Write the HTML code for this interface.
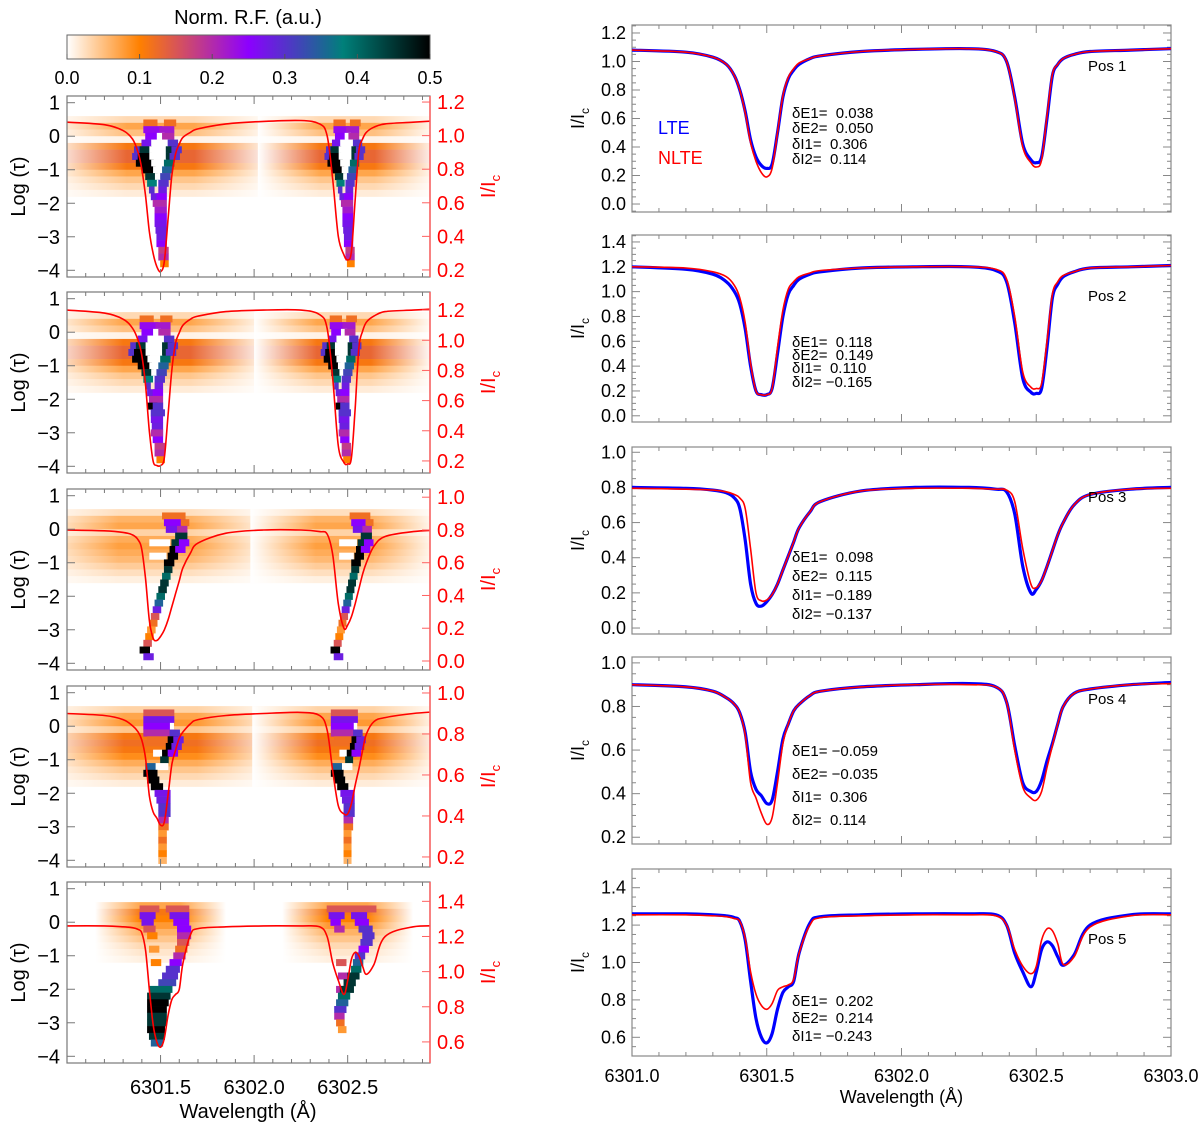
<!DOCTYPE html>
<html><head><meta charset="utf-8"><style>
html,body{margin:0;padding:0;background:#fff;}
svg{display:block;font-family:"Liberation Sans",Arial,sans-serif;}
.pre{white-space:pre;}
</style></head><body>
<svg id="fig" width="1200" height="1127" viewBox="0 0 1200 1127" xmlns="http://www.w3.org/2000/svg">
<defs>
<linearGradient id="cbgrad" x1="0" x2="1" y1="0" y2="0">
<stop offset="0" stop-color="#ffffff"/><stop offset="0.2" stop-color="#ff8000"/><stop offset="0.5" stop-color="#8c00ff"/><stop offset="0.76" stop-color="#00807a"/><stop offset="1" stop-color="#000000"/>
</linearGradient>
</defs>
<g id="root"></g>
</svg>
<script>
// ---------- DATA ----------
const wl = [6301.0,6301.2,6301.3,6301.35,6301.38,6301.4,6301.42,6301.44,6301.46,6301.48,6301.5,6301.52,6301.54,6301.56,6301.58,6301.6,6301.62,6301.66,6301.7,6301.85,6302.05,6302.25,6302.35,6302.39,6302.42,6302.45,6302.48,6302.5,6302.52,6302.54,6302.56,6302.58,6302.6,6302.64,6302.7,6302.85,6303.0];
const lte1 = [1.08,1.065,1.03,0.98,0.9,0.8,0.65,0.45,0.33,0.27,0.25,0.28,0.5,0.75,0.88,0.94,0.98,1.02,1.04,1.07,1.085,1.09,1.07,1.0,0.75,0.42,0.31,0.29,0.33,0.6,0.9,0.98,1.02,1.05,1.07,1.08,1.09];
const nlte1 = [1.08,1.065,1.03,0.98,0.9,0.8,0.64,0.43,0.3,0.22,0.19,0.25,0.5,0.76,0.89,0.95,0.99,1.02,1.04,1.07,1.085,1.09,1.07,1.0,0.74,0.4,0.29,0.26,0.31,0.62,0.91,0.98,1.02,1.05,1.07,1.08,1.09];
const lte2 = [1.2,1.18,1.14,1.08,1.0,0.9,0.7,0.4,0.2,0.17,0.17,0.22,0.5,0.8,0.98,1.05,1.1,1.14,1.16,1.19,1.2,1.2,1.17,1.08,0.75,0.3,0.19,0.18,0.22,0.55,0.95,1.06,1.12,1.16,1.19,1.2,1.21];
const nlte2 = [1.2,1.19,1.16,1.12,1.05,0.95,0.75,0.42,0.2,0.17,0.17,0.22,0.55,0.85,1.02,1.08,1.12,1.15,1.17,1.19,1.2,1.2,1.18,1.1,0.8,0.35,0.23,0.22,0.26,0.6,0.98,1.08,1.13,1.16,1.19,1.2,1.21];
const lte3 = [0.80,0.795,0.785,0.77,0.74,0.68,0.5,0.25,0.14,0.125,0.15,0.19,0.25,0.33,0.41,0.49,0.57,0.66,0.72,0.78,0.80,0.80,0.79,0.775,0.65,0.35,0.2,0.22,0.27,0.35,0.44,0.53,0.6,0.7,0.76,0.79,0.80];
const nlte3 = [0.795,0.79,0.785,0.775,0.76,0.74,0.68,0.45,0.2,0.155,0.16,0.19,0.25,0.33,0.41,0.49,0.57,0.66,0.72,0.78,0.795,0.795,0.79,0.785,0.72,0.45,0.25,0.23,0.27,0.35,0.44,0.53,0.6,0.7,0.76,0.79,0.795];
const lte4 = [0.9,0.89,0.87,0.84,0.81,0.77,0.68,0.5,0.42,0.39,0.355,0.37,0.5,0.65,0.72,0.78,0.81,0.85,0.87,0.89,0.9,0.905,0.89,0.82,0.62,0.45,0.41,0.41,0.46,0.55,0.63,0.72,0.8,0.86,0.88,0.9,0.91];
const nlte4 = [0.9,0.89,0.87,0.84,0.81,0.77,0.67,0.45,0.38,0.31,0.26,0.29,0.45,0.63,0.72,0.78,0.81,0.85,0.87,0.89,0.9,0.9,0.89,0.82,0.6,0.43,0.38,0.37,0.41,0.52,0.62,0.72,0.8,0.86,0.88,0.9,0.905];
const lte5 = [1.26,1.26,1.255,1.25,1.24,1.22,1.12,0.9,0.7,0.6,0.57,0.62,0.75,0.84,0.87,0.9,1.05,1.21,1.245,1.255,1.26,1.26,1.255,1.2,1.05,0.95,0.87,0.95,1.07,1.11,1.09,1.03,0.985,1.04,1.2,1.255,1.26];
const nlte5 = [1.255,1.255,1.25,1.245,1.235,1.22,1.13,0.95,0.83,0.77,0.75,0.78,0.85,0.87,0.88,0.91,1.05,1.2,1.24,1.25,1.255,1.255,1.25,1.2,1.07,0.98,0.94,0.98,1.12,1.18,1.17,1.1,0.99,1.03,1.19,1.25,1.255];

const posLabels = ["Pos 1","Pos 2","Pos 3","Pos 4","Pos 5"];
const deltaText = [
 ["δE1=  0.038","δE2=  0.050","δI1=  0.306","δI2=  0.114"],
 ["δE1=  0.118","δE2=  0.149","δI1=  0.110","δI2= −0.165"],
 ["δE1=  0.098","δE2=  0.115","δI1= −0.189","δI2= −0.137"],
 ["δE1= −0.059","δE2= −0.035","δI1=  0.306","δI2=  0.114"],
 ["δE1=  0.202","δE2=  0.214","δI1= −0.243"]
];
const tauTicks = [1,0,-1,-2,-3,-4];
const cbTicks = [0.0,0.1,0.2,0.3,0.4,0.5];
const leftWlTicks = [6301.5,6302.0,6302.5];
const rightWlTicks = [6301.0,6301.5,6302.0,6302.5,6303.0];

// RF bands: [tau, value]
const bands1 = [[0.5,0.03],[0.3,0.07],[0.1,0.05],[-0.1,0.01],[-0.3,0.11],[-0.5,0.13],[-0.7,0.13],[-0.9,0.11],[-1.1,0.07],[-1.3,0.045],[-1.5,0.03],[-1.7,0.015]];
const bands3 = [[0.5,0.025],[0.3,0.06],[0.1,0.07],[-0.1,0.035],[-0.3,0.065],[-0.5,0.075],[-0.7,0.065],[-0.9,0.055],[-1.1,0.04],[-1.3,0.025],[-1.5,0.012]];
const bands4 = [[0.5,0.035],[0.3,0.07],[0.1,0.08],[-0.1,0.045],[-0.3,0.11],[-0.5,0.12],[-0.7,0.11],[-0.9,0.09],[-1.1,0.065],[-1.3,0.045],[-1.5,0.03],[-1.7,0.015]];
const bands5 = [[0.5,0.07],[0.3,0.11],[0.1,0.1],[-0.1,0.08],[-0.3,0.06],[-0.5,0.045],[-0.7,0.03],[-0.9,0.02],[-1.1,0.012]];

// RF cells: [tau, dx1, dx2, value] relative to line core
const cellsV = [[0.4,-0.08,-0.03,0.12],[0.4,0.03,0.07,0.12],[0.2,-0.08,-0.005,0.24],[0.2,0.005,0.06,0.22],
[0.0,-0.07,-0.02,0.25],[0.0,-0.02,0.02,0.0],[0.0,0.02,0.06,0.2],
[-0.2,-0.09,-0.05,0.27],[-0.2,-0.05,0.05,0.0],[-0.2,0.05,0.08,0.3],
[-0.4,-0.13,-0.1,0.3],[-0.4,-0.1,-0.06,0.45],[-0.4,-0.06,0.04,0.0],[-0.4,0.04,0.07,0.45],[-0.4,0.07,0.1,0.3],
[-0.6,-0.14,-0.11,0.3],[-0.6,-0.11,-0.06,0.5],[-0.6,-0.06,0.04,0.0],[-0.6,0.04,0.06,0.45],[-0.6,0.06,0.09,0.3],
[-0.8,-0.12,-0.05,0.5],[-0.8,-0.05,0.03,0.0],[-0.8,0.03,0.06,0.4],
[-1.0,-0.09,-0.04,0.5],[-1.0,-0.04,0.02,0.0],[-1.0,0.02,0.05,0.35],
[-1.2,-0.07,-0.03,0.45],[-1.2,-0.03,0.01,0.0],[-1.2,0.01,0.04,0.32],
[-1.4,-0.06,-0.02,0.38],[-1.4,-0.02,0.0,0.0],[-1.4,0.0,0.03,0.3],
[-1.6,-0.05,-0.02,0.3],[-1.6,-0.02,0.0,0.02],[-1.6,0.0,0.02,0.28],
[-1.8,-0.04,-0.01,0.28],[-1.8,-0.01,0.02,0.25],
[-2.0,-0.03,0.02,0.2],[-2.2,-0.02,0.02,0.22],[-2.4,-0.02,0.02,0.25],[-2.6,-0.02,0.02,0.27],[-2.8,-0.015,0.02,0.28],[-3.0,-0.01,0.02,0.28],[-3.2,-0.01,0.02,0.25],[-3.4,0.0,0.03,0.18],[-3.6,0.0,0.03,0.2],[-3.8,0.01,0.03,0.1]];
const cellsV2extra = [[-2.2,-0.04,-0.01,0.5],[-2.2,-0.01,0.02,0.3],[-2.4,-0.02,0.03,0.3],[-3.0,-0.02,0.02,0.2]];
const cellsDiag = [[0.4,0.05,0.15,0.12],[0.2,0.06,0.15,0.25],[0.2,0.15,0.17,0.12],[0.0,0.07,0.13,0.27],[0.0,0.13,0.16,0.2],
[-0.2,0.12,0.16,0.45],[-0.4,-0.03,0.08,0.0],[-0.4,0.1,0.14,0.45],[-0.4,0.14,0.17,0.25],[-0.6,0.09,0.12,0.5],[-0.6,0.12,0.15,0.25],[-0.8,-0.03,0.06,0.0],[-0.8,0.08,0.11,0.5],[-1.0,0.06,0.09,0.5],[-1.2,0.06,0.08,0.45],[-1.4,0.05,0.07,0.4],[-1.6,0.04,0.06,0.45],[-1.8,0.03,0.05,0.45],[-2.0,0.02,0.04,0.4],[-2.2,0.01,0.03,0.35],[-2.4,0.0,0.02,0.28],[-2.6,-0.01,0.01,0.15],[-2.8,-0.02,0.0,0.12],[-3.0,-0.03,-0.01,0.08],[-3.2,-0.04,-0.02,0.1],[-3.4,-0.05,-0.03,0.15],[-3.6,-0.07,-0.04,0.5],[-3.8,-0.05,-0.02,0.28]];
const cellsCross = [[0.4,-0.08,0.06,0.15],[0.2,-0.08,0.06,0.27],[0.0,-0.08,0.05,0.25],[0.0,0.05,0.07,0.0],[-0.2,-0.08,0.06,0.2],[-0.2,0.06,0.09,0.3],
[-0.4,-0.06,0.04,0.12],[-0.4,0.05,0.08,0.5],[-0.4,0.08,0.11,0.28],[-0.6,0.04,0.07,0.5],[-0.6,0.07,0.1,0.28],[-0.8,-0.04,0.02,0.0],[-0.8,0.02,0.05,0.5],[-0.8,0.05,0.08,0.25],[-1.0,0.01,0.03,0.45],
[-1.2,-0.03,0.04,0.0],[-1.2,-0.07,-0.04,0.35],[-1.4,-0.08,-0.03,0.5],[-1.6,-0.06,-0.02,0.5],[-1.8,-0.04,0.0,0.5],
[-2.0,-0.02,0.04,0.27],[-2.2,-0.01,0.04,0.28],[-2.4,0.0,0.04,0.3],[-2.6,0.0,0.04,0.3],[-2.8,0.0,0.03,0.2],[-3.0,0.0,0.03,0.12],[-3.2,0.0,0.02,0.08],[-3.4,0.0,0.02,0.12],[-3.6,0.0,0.02,0.08],[-3.8,0.0,0.02,0.1],[-4.0,0.0,0.02,0.06]];
const cells5a = [[0.4,-0.1,-0.02,0.15],[0.4,0.04,0.14,0.15],[0.2,-0.1,-0.04,0.27],[0.2,0.06,0.14,0.27],[0.0,-0.09,-0.05,0.27],[0.0,0.08,0.14,0.25],[-0.2,-0.08,-0.04,0.15],[-0.2,0.1,0.15,0.25],[-0.4,-0.06,-0.03,0.1],[-0.4,0.1,0.15,0.2],[-0.6,0.1,0.14,0.15],[-0.8,-0.05,-0.02,0.08],[-0.8,0.09,0.13,0.12],[-1.0,0.08,0.12,0.2],[-1.2,-0.04,-0.01,0.1],[-1.2,0.06,0.1,0.25],[-1.4,0.04,0.09,0.3],[-1.6,0.02,0.08,0.3],[-1.8,0.0,0.07,0.32],[-2.0,-0.05,0.05,0.4],[-2.2,-0.06,0.04,0.45],[-2.4,-0.06,0.03,0.5],[-2.6,-0.06,0.02,0.5],[-2.8,-0.06,0.02,0.45],[-3.0,-0.06,0.02,0.45],[-3.2,-0.06,0.01,0.5],[-3.4,-0.05,0.01,0.45],[-3.6,-0.04,0.0,0.35]];
const cells5b = [[0.4,-0.1,0.14,0.15],[0.2,-0.09,-0.03,0.27],[0.2,0.03,0.09,0.27],[0.0,-0.08,-0.05,0.25],[0.0,0.05,0.1,0.25],[-0.2,-0.06,-0.03,0.2],[-0.2,0.07,0.12,0.3],[-0.4,0.09,0.13,0.3],[-0.6,0.08,0.12,0.3],[-0.8,0.07,0.1,0.25],[-1.0,0.05,0.08,0.3],[-1.2,-0.05,-0.02,0.15],[-1.2,0.04,0.07,0.35],[-1.4,0.03,0.06,0.4],[-1.6,-0.04,-0.01,0.2],[-1.6,0.01,0.05,0.45],[-1.8,-0.01,0.03,0.45],[-2.0,-0.05,-0.03,0.2],[-2.0,-0.03,0.02,0.45],[-2.2,-0.04,0.0,0.4],[-2.4,-0.05,-0.01,0.35],[-2.6,-0.06,-0.02,0.3],[-2.8,-0.06,-0.03,0.2],[-3.0,-0.05,-0.03,0.12],[-3.2,-0.04,-0.02,0.08]];

// ---------- LAYOUT ----------
const leftPanels = [
 {top:96, cores:[6301.5,6302.5], scale:[1,0.8], bands:bands1, cells:[cellsV,cellsV], hw:[0.6,0.48], ir:[0.158,1.236], iticks:[0.2,0.4,0.6,0.8,1.0,1.2], curve:nlte1},
 {top:292, cores:[6301.48,6302.48], scale:[1,0.8], bands:bands1, cells:[cellsV.concat(cellsV2extra),cellsV.concat(cellsV2extra)], hw:[0.6,0.48], ir:[0.12,1.32], iticks:[0.2,0.4,0.6,0.8,1.0,1.2], curve:lte2},
 {top:489, cores:[6301.47,6302.48], scale:[1,0.85], bands:bands3, cells:[cellsDiag,cellsDiag], hw:[0.65,0.5], ir:[-0.055,1.05], iticks:[0.0,0.2,0.4,0.6,0.8,1.0], curve:lte3},
 {top:686, cores:[6301.5,6302.49], scale:[1,0.85], bands:bands4, cells:[cellsCross,cellsCross], hw:[0.65,0.5], ir:[0.151,1.034], iticks:[0.2,0.4,0.6,0.8,1.0], curve:lte4},
 {top:882, cores:[6301.5,6302.5], scale:[1,1], bands:bands5, cells:[cells5a,cells5b], hw:[0.35,0.35], ir:[0.48,1.51], iticks:[0.6,0.8,1.0,1.2,1.4], curve:lte5}
];
const rightPanels = [
 {top:25, r:[-0.056,1.256], ticks:[0,0.2,0.4,0.6,0.8,1.0,1.2], lte:lte1, nlte:nlte1, ty:[113,128,144,159], py:71},
 {top:235, r:[-0.05,1.456], ticks:[0,0.2,0.4,0.6,0.8,1.0,1.2,1.4], lte:lte2, nlte:nlte2, ty:[342,355,368,382], py:301},
 {top:447, r:[-0.034,1.03], ticks:[0,0.2,0.4,0.6,0.8,1.0], lte:lte3, nlte:nlte3, ty:[557,576,595,614], py:502},
 {top:657, r:[0.169,1.027], ticks:[0.2,0.4,0.6,0.8,1.0], lte:lte4, nlte:nlte4, ty:[751,774,797,820], py:704},
 {top:869, r:[0.5,1.5], ticks:[0.6,0.8,1.0,1.2,1.4], lte:lte5, nlte:nlte5, ty:[1001,1018,1036], py:944}
];
const LX0=67, LX1=430, LH=181, LW0=6301.0, LW1=6302.94, TAU0=-4.2, TAU1=1.2;
const RX0=632, RX1=1171, RH=187, RW0=6301.0, RW1=6303.0;
const CELLPAD=0.012;

const NS="http://www.w3.org/2000/svg";
const root=document.getElementById('root');
function mk(tag, attrs, parent){const e=document.createElementNS(NS,tag);for(const k in attrs)e.setAttribute(k,attrs[k]);(parent||root).appendChild(e);return e;}
function txt(s, attrs, parent){const e=mk('text',attrs,parent);e.textContent=s;return e;}

function cmap(v){
 const st=[[0,[255,255,255]],[0.1,[255,128,0]],[0.25,[140,0,255]],[0.38,[0,128,122]],[0.5,[0,0,0]]];
 v=Math.max(0,Math.min(0.5,v));
 for(let i=0;i<st.length-1;i++){const a=st[i],b=st[i+1];if(v<=b[0]){const t=(v-a[0])/(b[0]-a[0]);const c=a[1].map((x,j)=>Math.round(x+(b[1][j]-x)*t));return `rgb(${c[0]},${c[1]},${c[2]})`;}}
 return 'rgb(0,0,0)';
}
function smoothPath(xs,ys){
 let d=`M${xs[0].toFixed(1)},${ys[0].toFixed(1)}`;
 for(let i=0;i<xs.length-1;i++){
  const x0=xs[Math.max(0,i-1)],y0=ys[Math.max(0,i-1)],x1=xs[i],y1=ys[i],x2=xs[i+1],y2=ys[i+1],x3=xs[Math.min(xs.length-1,i+2)],y3=ys[Math.min(xs.length-1,i+2)];
  const c1x=x1+(x2-x0)/6,c1y=y1+(y2-y0)/6,c2x=x2-(x3-x1)/6,c2y=y2-(y3-y1)/6;
  d+=`C${c1x.toFixed(1)},${c1y.toFixed(1)} ${c2x.toFixed(1)},${c2y.toFixed(1)} ${x2.toFixed(1)},${y2.toFixed(1)}`;
 }
 return d;
}
function fmt(v){return (v<0?'−':'')+Math.abs(v).toFixed(1);}

// ---------- COLORBAR ----------
const cbg=mk('g',{});


const cbt=txt('Norm. R.F. (a.u.)',{x:248,y:24,'font-size':20,'text-anchor':'middle',fill:'#000'},cbg);


mk('rect',{x:LX0,y:35,width:LX1-LX0,height:24,fill:'url(#cbgrad)',stroke:'#666','stroke-width':1},cbg);
cbTicks.forEach(v=>{
 const x=LX0+v/0.5*(LX1-LX0);
 mk('line',{x1:x,x2:x,y1:59,y2:54,stroke:'#555','stroke-width':1},cbg);
 const t=txt(v.toFixed(1),{x:x,y:84,'font-size':18,'text-anchor':'middle'},cbg);
 
 
});

// ---------- LEFT PANELS ----------
leftPanels.forEach((p,pi)=>{
 const g=mk('g',{});
 
 
 const top=p.top, bot=top+LH;
 const xS=w=>LX0+(w-LW0)/(LW1-LW0)*(LX1-LX0);
 const yT=t=>top+(TAU1-t)/(TAU1-TAU0)*LH;
 const yI=v=>top+(p.ir[1]-v)/(p.ir[1]-p.ir[0])*LH;
 const cid='clipL'+pi;
 const cp=mk('clipPath',{id:cid},g);mk('rect',{x:LX0,y:top,width:LX1-LX0,height:LH},cp);
 const hm=mk('g',{'clip-path':`url(#${cid})`},g);
 
 
 p.cores.forEach((c,li)=>{
  const hw=p.hw[li];
  p.bands.forEach(([t,v],bi)=>{
   const gid=`bg${pi}_${li}_${bi}`;
   const lg=mk('linearGradient',{id:gid,x1:0,x2:1,y1:0,y2:0},g);
   mk('stop',{offset:0,'stop-color':'#fff'},lg);mk('stop',{offset:0.35,'stop-color':cmap(v)},lg);
   mk('stop',{offset:0.65,'stop-color':cmap(v)},lg);mk('stop',{offset:1,'stop-color':'#fff'},lg);
   const r=mk('rect',{x:xS(c-hw),y:yT(t+0.1),width:xS(c+hw)-xS(c-hw),height:yT(t-0.1)-yT(t+0.1)+0.3,fill:`url(#${gid})`},hm);
   
   
  });
 });
 p.cores.forEach((c,li)=>{
  const s=p.scale[li];
  p.cells[li].forEach(([t,d1,d2,v])=>{
   const pad=v>0?CELLPAD:0;
   const x1=xS(c+d1*s-pad), x2=xS(c+d2*s+pad);
   const r=mk('rect',{x:x1,y:yT(t+0.1),width:Math.max(0.5,x2-x1)+0.3,height:yT(t-0.1)-yT(t+0.1)+0.3,fill:cmap(v)},hm);
   
   
  });
 });
 const path=mk('path',{d:smoothPath(wl.map(xS),p.curve.map(yI)),fill:'none',stroke:'#ff0000','stroke-width':1.6,'clip-path':`url(#${cid})`},g);
 
 
 mk('rect',{x:LX0,y:top,width:LX1-LX0,height:LH,fill:'none',stroke:'#777','stroke-width':1.2},g);
 mk('line',{x1:LX1,x2:LX1,y1:top,y2:bot,stroke:'#ff6060','stroke-width':1.5},g);
 for(let w=6301.1;w<LW1;w+=0.1){const x=xS(w);const maj=Math.abs(Math.round(w*2)/2-w)<0.01;
  mk('line',{x1:x,x2:x,y1:bot,y2:bot-(maj?8:4),stroke:'#777'},g);mk('line',{x1:x,x2:x,y1:top,y2:top+(maj?8:4),stroke:'#777'},g);}
 tauTicks.forEach(t=>{const y=yT(t);mk('line',{x1:LX0,x2:LX0+8,y1:y,y2:y,stroke:'#777'},g);
  const l=txt(t<0?'−'+Math.abs(t):String(t),{x:60,y:y+7,'font-size':20,'text-anchor':'end'},g);
  
  });
 p.iticks.forEach(v=>{const y=yI(v);mk('line',{x1:LX1,x2:LX1-8,y1:y,y2:y,stroke:'#ff6060'},g);
  const l=txt(fmt(v),{x:437,y:y+7,'font-size':20,fill:'#ff0000'},g);
  
  });
 const yl=txt('Log (τ)',{x:0,y:0,'font-size':20,'text-anchor':'middle',transform:`translate(25,${top+LH/2}) rotate(-90)`},g);
 
 
 const rl=mk('text',{x:0,y:0,'font-size':20,'text-anchor':'middle',fill:'#ff0000',transform:`translate(495,${top+LH/2}) rotate(-90)`},g);
 
 
 rl.innerHTML='I/I<tspan font-size="13" dy="5">c</tspan>';
 if(pi===4){
  leftWlTicks.forEach(w=>{const l=txt(w.toFixed(1),{x:xS(w),y:1094,'font-size':20,'text-anchor':'middle'},g);
   
   });
  const xt=txt('Wavelength (Å)',{x:248,y:1118,'font-size':20,'text-anchor':'middle'},g);
  
  
 }
});

// ---------- RIGHT PANELS ----------
rightPanels.forEach((p,pi)=>{
 const g=mk('g',{});
 
 
 const top=p.top, bot=top+RH;
 const xS=w=>RX0+(w-RW0)/(RW1-RW0)*(RX1-RX0);
 const yS=v=>top+(p.r[1]-v)/(p.r[1]-p.r[0])*RH;
 const cid='clipR'+pi;
 const cp=mk('clipPath',{id:cid},g);mk('rect',{x:RX0,y:top,width:RX1-RX0,height:RH},cp);
 mk('rect',{x:RX0,y:top,width:RX1-RX0,height:RH,fill:'none',stroke:'#888','stroke-width':1.2},g);
 for(let i=1;i<20;i++){const w=RW0+i*0.1;const x=xS(w);const maj=i%5===0;
  mk('line',{x1:x,x2:x,y1:bot,y2:bot-(maj?8:4),stroke:'#888'},g);mk('line',{x1:x,x2:x,y1:top,y2:top+(maj?8:4),stroke:'#888'},g);}
 for(let v=Math.ceil(p.r[0]/0.05)*0.05;v<=p.r[1];v+=0.05){const y=yS(v);const maj=Math.abs(Math.round(v*5)/5-v)<0.005;
  mk('line',{x1:RX0,x2:RX0+(maj?8:4),y1:y,y2:y,stroke:'#888'},g);mk('line',{x1:RX1,x2:RX1-(maj?8:4),y1:y,y2:y,stroke:'#888'},g);}
 p.ticks.forEach(v=>{const l=txt(v.toFixed(1),{x:626,y:yS(v)+6,'font-size':18,'text-anchor':'end'},g);
  
  });
 const yl=mk('text',{x:0,y:0,'font-size':18,'text-anchor':'middle',transform:`translate(584,${top+RH/2}) rotate(-90)`},g);
 
 
 yl.innerHTML='I/I<tspan font-size="12" dy="5">c</tspan>';
 const lb=mk('path',{d:smoothPath(wl.map(xS),p.lte.map(yS)),fill:'none',stroke:'#0000ff','stroke-width':3.2,'clip-path':`url(#${cid})`},g);
 
 
 const ln=mk('path',{d:smoothPath(wl.map(xS),p.nlte.map(yS)),fill:'none',stroke:'#ff0000','stroke-width':1.6,'clip-path':`url(#${cid})`},g);
 
 
 deltaText[pi].forEach((s,i)=>{const t=txt(s,{x:792,y:p.ty[i]+5,'font-size':15,'class':'pre'},g);
  
  });
 const pl=txt(posLabels[pi],{x:1088,y:p.py,'font-size':15},g);
 
 
 if(pi===0){
  const a=txt('LTE',{x:658,y:134,'font-size':18,fill:'#0000ff'},g);
  
  
  const b=txt('NLTE',{x:658,y:164,'font-size':18,fill:'#ff0000'},g);
  
  
 }
 if(pi===4){
  rightWlTicks.forEach(w=>{const l=txt(w.toFixed(1),{x:xS(w),y:1082,'font-size':18,'text-anchor':'middle'},g);
   
   });
  const xt=txt('Wavelength (Å)',{x:(RX0+RX1)/2,y:1103,'font-size':18,'text-anchor':'middle'},g);
  
  
 }
});
</script>
</body></html>
